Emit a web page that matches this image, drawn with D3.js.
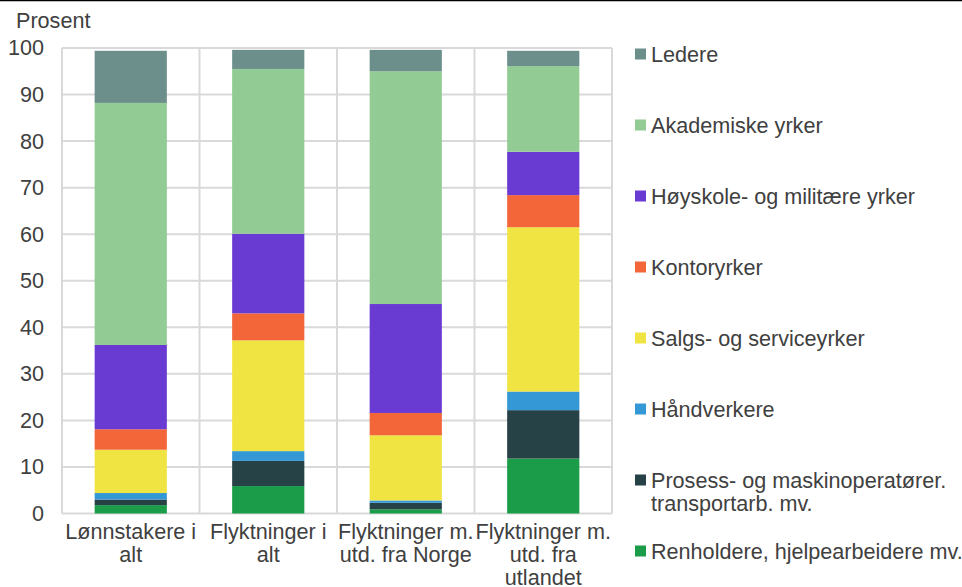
<!DOCTYPE html>
<html>
<head>
<meta charset="utf-8">
<script src="https://cdn.jsdelivr.net/npm/d3@7"></script>
<style>
  html, body { margin: 0; padding: 0; background: #fff; }
  svg { display: block; font-family: "Liberation Sans", Arial, sans-serif; }
</style>
</head>
<body>
<svg id="chart" width="962" height="587"></svg>
<script>
// Categories (multi-line axis labels)
const categories = [
  "Lønnstakere i alt",
  "Flyktninger i alt",
  "Flyktninger m. utd. fra Norge",
  "Flyktninger m. utd. fra utlandet"
];
const categoryLines = [
  ["Lønnstakere i", "alt"],
  ["Flyktninger i", "alt"],
  ["Flyktninger m.", "utd. fra Norge"],
  ["Flyktninger m.", "utd. fra", "utlandet"]
];

// Occupation groups, stacked from bottom to top
const seriesNames = [
  "Renholdere, hjelpearbeidere mv.",
  "Prosess- og maskinoperatører. transportarb. mv.",
  "Håndverkere",
  "Salgs- og serviceyrker",
  "Kontoryrker",
  "Høyskole- og militære yrker",
  "Akademiske yrker",
  "Ledere"
];

// Share in percent per category, one array per occupation group
const renholdere  = [1.8, 5.9, 0.9, 11.8];
const prosess     = [1.2, 5.4, 1.4, 10.4];
const handverkere = [1.4, 2.1, 0.5, 4.0];
const salgs       = [9.3, 23.8, 14.0, 35.3];
const kontor      = [4.4, 5.8, 4.8, 6.9];
const hoyskole    = [18.1, 17.1, 23.4, 9.3];
const akademiske  = [52.0, 35.4, 50.0, 18.4];
const ledere      = [11.2, 4.1, 4.6, 3.3];

const yTicks = [0, 10, 20, 30, 40, 50, 60, 70, 80, 90, 100];

const colors = ["#1b9c49", "#274246", "#3498d6", "#efe442", "#f2663a", "#6a3bd2", "#92cc94", "#6c8f8c"];

// Legend order (top to bottom) and wrapped text
const legendOrder = [7, 6, 5, 4, 3, 2, 1, 0];
const legendLines = {
  0: ["Renholdere, hjelpearbeidere mv."],
  1: ["Prosess- og maskinoperatører.", "transportarb. mv."],
  2: ["Håndverkere"],
  3: ["Salgs- og serviceyrker"],
  4: ["Kontoryrker"],
  5: ["Høyskole- og militære yrker"],
  6: ["Akademiske yrker"],
  7: ["Ledere"]
};

const valuesBySeries = [renholdere, prosess, handverkere, salgs, kontor, hoyskole, akademiske, ledere];
const rows = categories.map((c, i) => {
  const r = { category: c };
  seriesNames.forEach((s, j) => { r[s] = valuesBySeries[j][i]; });
  return r;
});

const svg = d3.select("#chart");
const textColor = "#404040";
const gridColor = "#d9d9d9";
const fontSize = "21.6px";

const plot = { left: 62, right: 612, top: 48, bottom: 513.5 };

const x = d3.scaleBand().domain(categories).range([plot.left, plot.right]).paddingInner(0).paddingOuter(0);
const y = d3.scaleLinear().domain([0, 100]).range([plot.bottom, plot.top]);
const barW = x.bandwidth() * 0.525;

// Frame line along the top edge
svg.append("line").attr("x1", 0).attr("x2", 962).attr("y1", 0.5).attr("y2", 0.5)
  .attr("stroke", "#000").attr("stroke-width", 1.5);

// Horizontal gridlines
svg.append("g").selectAll("line").data(yTicks).join("line")
  .attr("x1", plot.left).attr("x2", plot.right)
  .attr("y1", d => y(d)).attr("y2", d => y(d))
  .attr("stroke", gridColor).attr("stroke-width", 2);

// Vertical category separators and plot frame
const seps = categories.map(c => x(c)).concat([plot.right]);
svg.append("g").selectAll("line").data(seps).join("line")
  .attr("x1", d => d).attr("x2", d => d)
  .attr("y1", y(100)).attr("y2", y(0))
  .attr("stroke", gridColor).attr("stroke-width", 2);

// Stacked bars
const stack = d3.stack().keys(seriesNames);
const stacked = stack(rows);
svg.append("g").selectAll("g").data(stacked).join("g")
  .attr("fill", (d, i) => colors[i])
  .selectAll("rect").data(d => d).join("rect")
  .attr("x", d => x(d.data.category) + (x.bandwidth() - barW) / 2)
  .attr("width", barW)
  .attr("y", d => y(d[1]))
  .attr("height", d => y(d[0]) - y(d[1]));

// Y axis labels
const yAxis = d3.axisLeft(y).tickValues(yTicks).tickSize(0).tickPadding(0);
const gy = svg.append("g").attr("transform", "translate(44,0)").call(yAxis);
gy.select(".domain").remove();
gy.selectAll("text").attr("fill", textColor).style("font-size", fontSize)
  .style("font-family", "'Liberation Sans', Arial, sans-serif");

// Axis title
svg.append("text").attr("x", 16).attr("y", 27.5).text("Prosent")
  .attr("fill", textColor).style("font-size", fontSize);

// X category labels
const xl = svg.append("g");
categories.forEach((c, i) => {
  const cx = x(c) + x.bandwidth() / 2;
  const t = xl.append("text")
    .attr("x", cx)
    .attr("y", 539)
    .attr("text-anchor", "middle")
    .attr("fill", textColor)
    .style("font-size", fontSize);
  categoryLines[i].forEach((ln, k) => {
    t.append("tspan").attr("x", cx).attr("dy", k === 0 ? 0 : 23.2).text(ln);
  });
});

// Legend
const lg = svg.append("g");
legendOrder.forEach((si, k) => {
  const cy = 54 + k * 71;
  lg.append("rect").attr("x", 635).attr("y", cy - 5.5).attr("width", 11).attr("height", 11)
    .attr("fill", colors[si]);
  const t = lg.append("text").attr("x", 651).attr("y", cy + 7.5)
    .attr("fill", textColor).style("font-size", fontSize);
  legendLines[si].forEach((ln, j) => {
    t.append("tspan").attr("x", 651).attr("dy", j === 0 ? 0 : 23).text(ln);
  });
});
</script>
</body>
</html>
